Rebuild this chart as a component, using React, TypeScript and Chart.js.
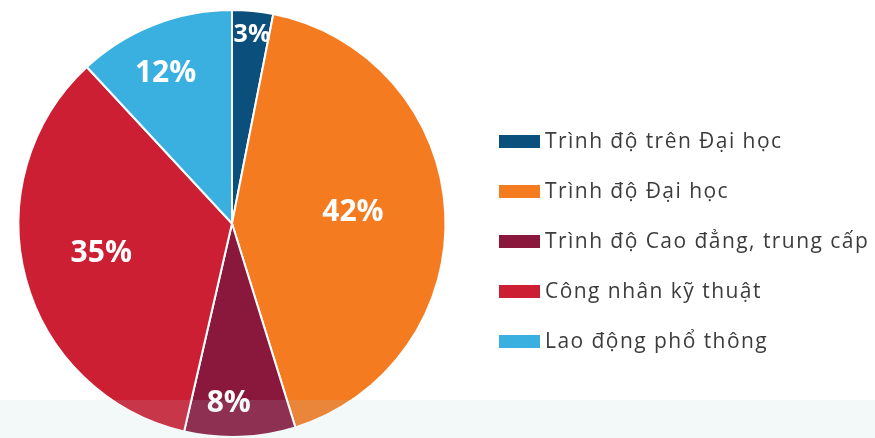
import React, { useEffect, useRef } from "react";
import { Chart, registerables } from "chart.js";

Chart.register(...registerables);

const categories = [
  "Trình độ trên Đại học",
  "Trình độ Đại học",
  "Trình độ Cao đẳng, trung cấp",
  "Công nhân kỹ thuật",
  "Lao động phổ thông",
];
const shares = [3.1, 42.1, 8.4, 34.5, 11.9];
const percentLabels = ["3%", "42%", "8%", "35%", "12%"];
const colors = ["#0b4f7c", "#f47b20", "#8a173c", "#cd1f33", "#3ab0e0"];

// styling: radial position of each value label (fraction of radius), angular nudge (degrees), font size
const labelRadius = [0.9, 0.57, 0.83, 0.625, 0.78];
const labelAngleNudge = [0.4, -3.4, 3.2, 3.4, -2.1];
const labelFontSize = [25, 30, 30, 30, 30];

const labelPlugin = {
  id: "sliceLabels",
  afterDatasetsDraw(chart: any) {
    const ctx = chart.ctx;
    const meta = chart.getDatasetMeta(0);
    ctx.save();
    ctx.fillStyle = "#ffffff";
    ctx.textAlign = "center";
    ctx.textBaseline = "middle";
    meta.data.forEach((arc: any, i: number) => {
      const p = arc.getProps(["x", "y", "startAngle", "endAngle", "outerRadius"], true);
      const mid = (p.startAngle + p.endAngle) / 2 + (labelAngleNudge[i] * Math.PI) / 180;
      const r = p.outerRadius * labelRadius[i];
      ctx.font = `bold ${labelFontSize[i]}px 'Open Sans', sans-serif`;
      ctx.fillText(percentLabels[i], p.x + Math.cos(mid) * r, p.y + Math.sin(mid) * r + labelFontSize[i] / 10);
    });
    ctx.restore();
  },
};

const legendPlugin = {
  id: "sideLegend",
  afterDraw(chart: any) {
    const ctx = chart.ctx;
    ctx.save();
    const labels = chart.data.labels as string[];
    const bg = chart.data.datasets[0].backgroundColor as string[];
    labels.forEach((t, i) => {
      const cy = 141.5 + i * 50;
      ctx.fillStyle = bg[i];
      ctx.fillRect(499, cy - 6.5, 41, 13);
      ctx.fillStyle = "#3c3c3c";
      ctx.font = "21px 'Open Sans', sans-serif";
      (ctx as any).letterSpacing = "1.45px";
      ctx.textAlign = "left";
      ctx.textBaseline = "middle";
      ctx.fillText(t, 545, cy + 1);
    });
    ctx.restore();
  },
};

export default function App() {
  const ref = useRef<HTMLCanvasElement>(null);
  useEffect(() => {
    if (!ref.current) return;
    const chart = new Chart(ref.current, {
      type: "pie",
      data: {
        labels: categories,
        datasets: [
          {
            data: shares,
            backgroundColor: colors,
            borderColor: "#ffffff",
            borderWidth: 2,
          },
        ],
      },
      options: {
        animation: false,
        responsive: false,
        maintainAspectRatio: false,
        layout: { padding: { left: 17, right: 428, top: 9, bottom: 0 } },
        plugins: {
          legend: { display: false },
          tooltip: { enabled: false },
        },
      },
      plugins: [labelPlugin, legendPlugin],
    });
    return () => chart.destroy();
  }, []);
  return (
    <div style={{ position: "fixed", left: 0, top: 0, width: 875, height: 438, background: "#ffffff", overflow: "hidden" }}>
      <canvas ref={ref} width={875} height={438} style={{ display: "block" }} />
      <div
        style={{
          position: "absolute",
          left: 0,
          top: 400,
          width: 875,
          height: 38,
          background: "rgba(170,205,212,0.14)",
        }}
      />
    </div>
  );
}
